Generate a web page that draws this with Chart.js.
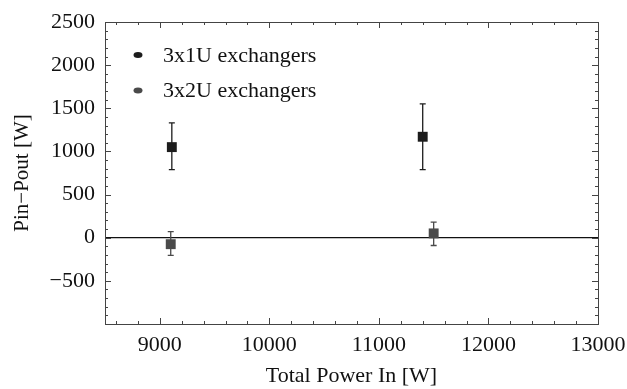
<!DOCTYPE html>
<html>
<head>
<meta charset="utf-8">
<script src="https://cdn.jsdelivr.net/npm/chart.js@4.4.1/dist/chart.umd.min.js"></script>
<style>
  html, body { margin: 0; padding: 0; background: #fff; }
  #wrap { width: 627px; height: 389px; }
</style>
</head>
<body>
<div id="wrap"><canvas id="chart"></canvas></div>
<script>
// Datos
const seriesNames = ['3x1U exchangers', '3x2U exchangers'];
const seriesColors = ['#1c1c1c', '#4a4a4a'];

const xOneU = [9110, 11400];
const yOneU = [1050, 1170];
const lowOneU = [790, 790];
const highOneU = [1330, 1550];

const xTwoU = [9100, 11500];
const yTwoU = [-75, 50];
const lowTwoU = [-205, -90];
const highTwoU = [70, 180];

const xTickValues = [9000, 10000, 11000, 12000, 13000];
const yTickValues = [-500, 0, 500, 1000, 1500, 2000, 2500];

const serif = "'Liberation Serif', 'DejaVu Serif', serif";

function toPoints(xs, ys, lo, hi) {
  return xs.map((x, i) => ({ x: x, y: ys[i], yMin: lo[i], yMax: hi[i] }));
}

// Barras de error, línea del cero, marco con ticks hacia dentro y leyenda
const framePlugin = {
  id: 'frame',
  beforeDatasetsDraw(chart) {
    const { ctx, chartArea: a, scales: { x, y } } = chart;
    ctx.save();
    // línea horizontal en y = 0
    const y0 = y.getPixelForValue(0);
    ctx.strokeStyle = '#111';
    ctx.lineWidth = 1.2;
    ctx.beginPath();
    ctx.moveTo(a.left, y0);
    ctx.lineTo(a.right, y0);
    ctx.stroke();
    // barras de error
    chart.data.datasets.forEach(ds => {
      ctx.strokeStyle = ds.backgroundColor;
      ctx.lineWidth = 1.3;
      ds.data.forEach(p => {
        const px = x.getPixelForValue(p.x);
        const top = y.getPixelForValue(p.yMax);
        const bot = y.getPixelForValue(p.yMin);
        ctx.beginPath();
        ctx.moveTo(px, top); ctx.lineTo(px, bot);
        ctx.moveTo(px - 3, top); ctx.lineTo(px + 3, top);
        ctx.moveTo(px - 3, bot); ctx.lineTo(px + 3, bot);
        ctx.stroke();
      });
    });
    ctx.restore();
  },
  afterDraw(chart) {
    const { ctx, chartArea: a, scales: { x, y } } = chart;
    ctx.save();
    ctx.strokeStyle = '#444';
    ctx.lineWidth = 1;
    ctx.strokeRect(Math.round(a.left) + 0.5, Math.round(a.top) + 0.5,
      Math.round(a.right - a.left), Math.round(a.bottom - a.top));
    ctx.beginPath();
    // ticks del eje x (mayores cada 1000, menores cada 200)
    for (let v = 8600; v <= 13000; v += 200) {
      const px = Math.round(x.getPixelForValue(v)) + 0.5;
      const len = v % 1000 === 0 ? 6 : 3;
      ctx.moveTo(px, a.bottom); ctx.lineTo(px, a.bottom - len);
      ctx.moveTo(px, a.top); ctx.lineTo(px, a.top + len);
    }
    // ticks del eje y (mayores cada 500, menores cada 100)
    for (let v = -900; v <= 2500; v += 100) {
      const py = Math.round(y.getPixelForValue(v)) + 0.5;
      const len = v % 500 === 0 ? 6 : 3;
      ctx.moveTo(a.left, py); ctx.lineTo(a.left + len, py);
      ctx.moveTo(a.right, py); ctx.lineTo(a.right - len, py);
    }
    ctx.stroke();
    // leyenda
    ctx.font = '22px ' + serif;
    ctx.textBaseline = 'middle';
    chart.data.datasets.forEach((ds, i) => {
      const ly = 55 + i * 35.5;
      ctx.fillStyle = ds.backgroundColor;
      ctx.beginPath();
      ctx.ellipse(138, ly, 4.5, 3, 0, 0, Math.PI * 2);
      ctx.fill();
      ctx.fillStyle = '#111';
      ctx.fillText(ds.label, 163, ly + 1);
    });
    ctx.restore();
  }
};

const ctx = document.getElementById('chart').getContext('2d');
new Chart(ctx, {
  type: 'scatter',
  data: {
    datasets: [
      {
        label: seriesNames[0],
        data: toPoints(xOneU, yOneU, lowOneU, highOneU),
        backgroundColor: seriesColors[0],
        pointStyle: 'rect', pointRadius: 7, pointBorderWidth: 0
      },
      {
        label: seriesNames[1],
        data: toPoints(xTwoU, yTwoU, lowTwoU, highTwoU),
        backgroundColor: seriesColors[1],
        pointStyle: 'rect', pointRadius: 7, pointBorderWidth: 0
      }
    ]
  },
  options: {
    responsive: true,
    maintainAspectRatio: false,
    animation: false,
    layout: { padding: { left: 0, right: 29, top: 22, bottom: 0 } },
    plugins: { legend: { display: false }, tooltip: { enabled: false } },
    scales: {
      x: {
        type: 'linear', min: 8500, max: 13000,
        afterBuildTicks: s => { s.ticks = xTickValues.map(v => ({ value: v })); },
        afterFit: s => { s.height = 65; s.paddingLeft = 0; s.paddingRight = 0; },
        grid: { display: false, drawTicks: false },
        border: { display: false },
        ticks: { color: '#111', font: { family: serif, size: 22 }, padding: 8, maxRotation: 0,
                 callback: v => String(v) },
        title: { display: true, text: 'Total Power In [W]', color: '#111',
                 font: { family: serif, size: 22 }, padding: { top: 0, bottom: 0 } }
      },
      y: {
        type: 'linear', min: -1000, max: 2500,
        afterBuildTicks: s => { s.ticks = yTickValues.map(v => ({ value: v })); },
        afterFit: s => { s.width = 105; s.paddingTop = 0; s.paddingBottom = 0; },
        grid: { display: false, drawTicks: false },
        border: { display: false },
        ticks: { color: '#111', font: { family: serif, size: 22 }, padding: 10,
                 callback: v => v < 0 ? '\u2212' + Math.abs(v) : String(v) },
        title: { display: true, text: 'Pin\u2212Pout [W]', color: '#111',
                 font: { family: serif, size: 21 }, padding: { top: 10, bottom: 0 } }
      }
    }
  },
  plugins: [framePlugin]
});
</script>
</body>
</html>
